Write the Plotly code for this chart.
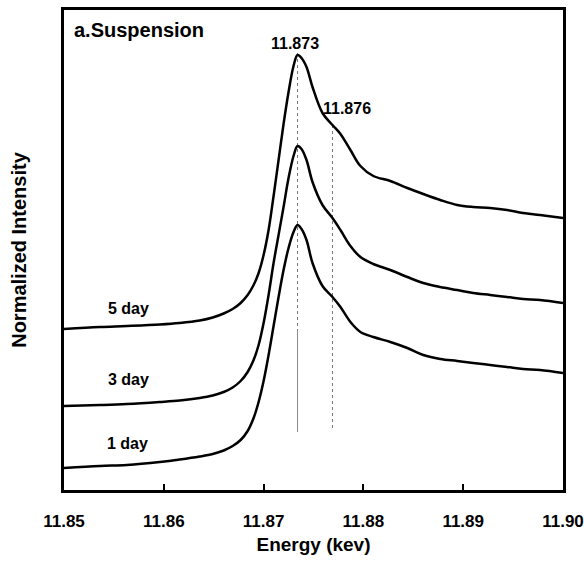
import plotly.graph_objects as go

# Energy grid (keV)
energy = [11.8500, 11.8536, 11.8563,
          11.8596, 11.8616, 11.8636, 11.8649, 11.8660, 11.8669, 11.8677, 11.8684, 11.8690,
          11.8695, 11.8700, 11.8705, 11.8710, 11.8715, 11.8720, 11.8725, 11.8730, 11.8734,
          11.8738, 11.8743, 11.8749, 11.8759, 11.8769, 11.8777, 11.8787, 11.8797, 11.8810,
          11.8827, 11.8844, 11.8860, 11.8877, 11.8894, 11.8910, 11.8927, 11.8944, 11.8960,
          11.8977, 11.9000]

# Normalized intensity (stacked, arbitrary offsets)
int_5day = [1.61, 1.63, 1.64,
            1.655, 1.67, 1.695, 1.725, 1.765, 1.81, 1.87, 1.95, 2.05, 2.17, 2.35, 2.60, 2.94,
            3.30, 3.66, 3.98, 4.24, 4.35,
            4.32, 4.23, 4.03, 3.77, 3.65, 3.56, 3.40, 3.24, 3.14, 3.09, 3.02, 2.96, 2.90,
            2.85, 2.83, 2.82, 2.80, 2.77, 2.75, 2.72]
int_3day = [0.84, 0.85, 0.86,
            0.88, 0.895, 0.92, 0.945, 0.98, 1.025, 1.09, 1.18, 1.30, 1.45, 1.67, 1.95, 2.27,
            2.55, 2.83, 3.12, 3.34, 3.44,
            3.41, 3.30, 3.08, 2.85, 2.72, 2.60, 2.44, 2.33, 2.26, 2.20, 2.13, 2.07, 2.03,
            2.00, 1.97, 1.95, 1.93, 1.91, 1.90, 1.87]
int_1day = [0.22, 0.24, 0.25,
            0.28, 0.305, 0.335, 0.36, 0.395, 0.44, 0.50, 0.59, 0.72, 0.88, 1.09, 1.35, 1.64,
            1.93, 2.20, 2.42, 2.58, 2.65,
            2.61, 2.50, 2.27, 2.04, 1.93, 1.83, 1.68, 1.58, 1.53, 1.48, 1.42, 1.35, 1.31,
            1.29, 1.27, 1.25, 1.23, 1.21, 1.20, 1.17]

series_names = ["5 day", "3 day", "1 day"]
series_values = [int_5day, int_3day, int_1day]
label_x = [11.8565, 11.8565, 11.8564]
label_y = [1.82, 1.11, 0.47]

# Peak markers
peak_energy = [11.8734, 11.8769]
peak_labels = ["11.873", "11.876"]
peak_label_x = [11.8731, 11.8784]
peak_label_y = [4.47, 3.82]
# dotted upper part, solid lower part of each reference line
peak_dot_top = [4.37, 3.65]
peak_dot_bottom = [1.60, 0.60]
peak_solid_bottom = [0.58, 0.60]

tick_vals = [11.85, 11.86, 11.87, 11.88, 11.89, 11.90]
tick_text = ["11.85", "11.86", "11.87", "11.88", "11.89", "11.90"]

FONT = "Liberation Sans, Arial, Helvetica, sans-serif"

fig = go.Figure()

for e, top, mid, bot in zip(peak_energy, peak_dot_top, peak_dot_bottom, peak_solid_bottom):
    fig.add_trace(go.Scatter(x=[e, e], y=[top, mid], mode="lines",
                             line=dict(color="#777777", width=1, dash="dot"),
                             showlegend=False, hoverinfo="skip"))
    if bot < mid:
        fig.add_trace(go.Scatter(x=[e, e], y=[mid, bot], mode="lines",
                                 line=dict(color="#8c8c8c", width=1),
                                 showlegend=False, hoverinfo="skip"))

for name, vals in zip(series_names, series_values):
    fig.add_trace(go.Scatter(x=energy, y=vals, mode="lines", name=name,
                             line=dict(color="black", width=2.5, shape="spline", smoothing=1.0),
                             showlegend=False))

annotations = []
for name, lx, ly in zip(series_names, label_x, label_y):
    annotations.append(dict(x=lx, y=ly, xref="x", yref="y", text=name, showarrow=False,
                            font=dict(family=FONT, size=16, color="black", weight="bold")))
for t, lx, ly in zip(peak_labels, peak_label_x, peak_label_y):
    annotations.append(dict(x=lx, y=ly, xref="x", yref="y", text=t, showarrow=False,
                            font=dict(family=FONT, size=16, color="black", weight="bold")))
annotations.append(dict(x=0.016, y=0.958, xref="paper", yref="paper", text="a.Suspension",
                        xanchor="left", yanchor="middle", showarrow=False,
                        font=dict(family=FONT, size=20, color="black", weight="bold")))

fig.update_layout(
    width=584, height=564,
    margin=dict(l=64, r=21, t=10, b=74, autoexpand=False),
    paper_bgcolor="white", plot_bgcolor="white",
    annotations=annotations,
    font=dict(family=FONT, color="black"),
)
fig.update_xaxes(range=[11.85, 11.90], tickvals=tick_vals, ticktext=tick_text,
                 ticks="inside", ticklen=6, tickwidth=2, tickcolor="black",
                 showline=True, linewidth=2.5, linecolor="black", mirror=True,
                 showgrid=False, zeroline=False, ticklabelstandoff=14, automargin=False,
                 tickfont=dict(family=FONT, size=17, color="black", weight="bold"),
                 title=dict(text="Energy (kev)", standoff=8,
                            font=dict(family=FONT, size=19, color="black", weight="bold")))
fig.update_yaxes(range=[0, 4.8], showticklabels=False, ticks="",
                 showline=True, linewidth=2.5, linecolor="black", mirror=True,
                 showgrid=False, zeroline=False, automargin=False,
                 title=dict(text="Normalized Intensity", standoff=30,
                            font=dict(family=FONT, size=20, color="black", weight="bold")))

fig.write_html("out.html")
